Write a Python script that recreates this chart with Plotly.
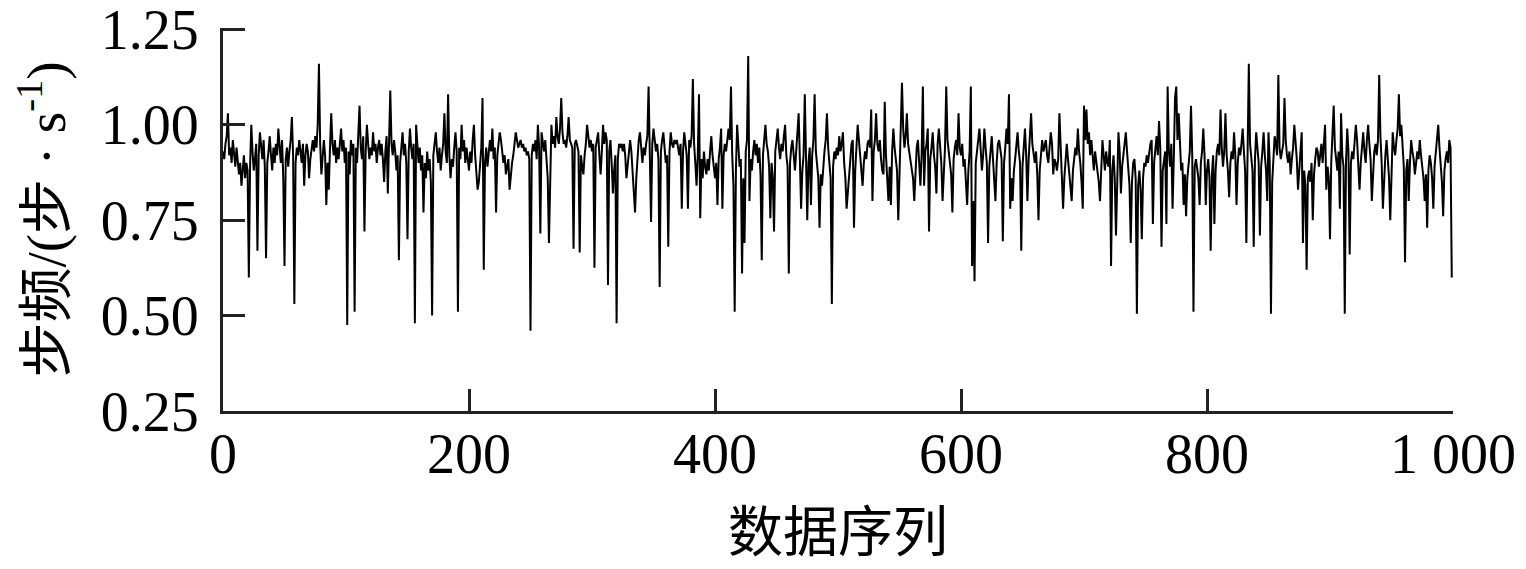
import plotly.graph_objects as go

# Step-frequency series (steps/s), 200 values per segment
seg0 = [0.93,0.91,0.95,0.97,1.03,0.92,0.94,0.90,0.96,0.93,0.89,0.94,0.91,0.87,0.90,0.84,0.88,0.92,0.86,0.90,
        0.88,0.60,0.89,1.00,0.93,0.88,0.91,0.95,0.67,0.92,0.98,0.94,0.91,0.96,0.89,0.65,0.90,0.93,0.97,0.92,
        0.88,0.94,0.90,0.95,0.92,0.99,0.93,0.90,0.96,0.86,0.63,0.91,0.94,0.89,0.93,0.96,1.02,0.92,0.53,0.90,
        0.94,0.92,0.96,0.93,0.90,0.95,0.84,0.92,0.95,0.93,0.86,0.91,0.94,0.96,0.93,0.97,0.94,1.00,1.16,0.95,
        0.87,0.93,0.96,0.92,0.79,0.90,0.83,0.94,1.03,0.95,0.92,0.96,0.90,0.94,0.91,0.95,0.99,0.93,0.96,0.90,
        0.94,0.475,0.93,0.87,0.96,0.92,0.95,0.51,0.94,0.90,0.96,1.05,0.94,0.91,0.97,0.72,0.93,1.00,0.95,0.91,
        0.94,0.92,0.98,0.93,0.95,0.90,0.94,0.96,0.92,0.95,0.91,0.85,0.93,0.97,0.82,0.94,1.09,0.95,0.92,0.96,
        0.93,0.88,0.92,0.645,0.90,0.94,0.98,0.92,0.95,0.90,0.70,0.93,0.99,0.94,0.91,0.95,0.48,1.00,0.93,0.90,
        0.94,0.88,0.92,0.77,0.90,0.86,0.93,0.88,0.91,0.85,0.50,0.92,0.95,0.98,0.93,0.90,0.94,0.88,0.92,0.95,
        1.03,0.93,0.90,1.08,0.92,0.86,0.91,0.89,0.94,0.98,0.93,0.51,0.94,0.91,1.00,0.93,0.96,0.90,0.94,0.91]
seg1 = [0.88,0.93,0.90,0.96,1.00,0.92,0.87,0.83,0.85,0.91,0.94,1.07,0.62,0.90,0.94,0.89,0.92,0.96,0.93,0.99,
        0.91,0.94,0.77,0.92,0.95,0.98,0.96,0.93,0.90,0.92,0.87,0.89,0.91,0.83,0.88,0.90,0.92,0.95,0.98,0.96,
        0.94,0.95,0.96,0.94,0.95,0.93,0.94,0.92,0.93,0.91,0.46,0.92,0.95,0.93,0.96,0.91,1.00,0.94,0.715,0.98,
        0.95,0.93,0.96,0.92,0.86,0.69,0.90,1.00,0.95,0.97,0.94,1.02,0.97,0.95,0.99,1.07,0.98,0.95,0.96,0.94,
        0.97,1.02,0.96,0.95,0.94,0.675,0.95,0.96,0.94,0.93,0.665,0.92,0.89,0.87,0.92,0.95,1.00,0.96,0.94,0.96,
        0.93,0.95,0.625,0.94,0.96,0.98,0.92,0.87,0.93,1.00,0.95,0.98,0.96,0.58,0.93,0.96,0.90,0.82,0.88,0.92,
        0.48,0.91,0.95,0.94,0.95,0.93,0.95,0.92,0.86,0.90,0.94,0.96,0.93,0.88,0.84,0.77,0.86,0.92,0.96,0.98,
        0.93,0.90,0.94,0.92,0.95,0.97,1.10,0.96,0.745,0.95,0.99,0.96,0.93,0.95,0.91,0.575,0.93,0.96,0.98,0.94,
        0.90,0.92,0.68,0.93,0.98,0.95,0.94,0.96,0.95,0.96,0.94,0.92,0.95,0.78,0.93,0.98,0.95,0.92,0.78,0.96,
        0.94,0.97,1.12,0.95,0.90,0.84,0.92,1.08,0.755,0.91,0.86,0.93,0.89,0.87,0.91,0.88,0.93,0.97,0.92,0.89]
seg2 = [0.86,0.90,0.79,0.91,0.94,0.99,0.78,0.92,0.95,0.93,0.97,0.99,0.96,1.10,0.92,0.84,0.51,0.88,1.00,0.94,
        0.89,0.91,0.61,0.86,0.69,0.93,0.96,1.18,0.80,0.91,0.88,0.93,0.96,0.92,0.95,0.90,0.94,0.87,0.645,0.92,
        0.96,1.00,0.95,0.93,0.89,0.755,0.90,0.86,0.72,0.93,0.96,0.99,0.94,0.91,0.95,0.93,0.97,1.00,0.92,0.89,
        0.61,0.90,0.94,0.96,0.92,0.88,0.93,0.97,1.03,0.91,0.78,0.88,0.92,1.08,0.86,0.75,0.90,0.94,0.79,0.92,
        0.96,1.08,0.93,0.89,0.86,0.73,0.87,0.84,0.90,0.93,0.96,1.03,0.94,0.90,0.86,0.53,0.89,0.93,0.91,0.94,
        0.92,0.97,0.93,0.95,0.98,0.90,0.86,0.78,0.83,0.88,0.92,0.95,0.96,0.73,0.88,0.93,1.00,0.96,0.91,0.88,
        0.84,0.90,0.93,0.91,0.95,0.96,0.94,1.04,0.80,0.93,0.96,1.03,0.95,0.93,0.96,0.91,0.88,0.87,1.06,0.92,
        0.85,0.80,0.89,0.79,0.93,0.99,0.94,0.91,0.88,0.75,0.90,0.96,1.11,0.99,0.94,0.97,1.03,0.95,0.93,0.91,
        0.89,0.86,0.80,0.90,0.94,0.96,0.91,0.84,0.92,1.10,0.84,0.93,0.95,0.99,0.72,0.91,0.94,0.98,0.92,0.89,
        0.82,0.95,0.99,0.93,0.90,0.80,0.89,0.94,1.10,0.96,0.93,0.90,0.87,0.77,0.91,0.94,0.96,0.92,1.03,0.94]
seg3 = [0.92,0.95,0.89,0.91,0.86,0.79,0.88,0.93,1.10,0.63,0.80,0.59,0.90,0.94,0.96,0.99,0.93,0.88,0.92,0.99,
        0.94,0.90,0.69,0.89,0.93,0.97,0.91,0.86,0.80,0.90,0.95,0.96,0.93,0.91,0.695,0.90,0.94,0.99,0.95,1.08,
        0.78,0.86,0.80,0.88,0.91,0.95,0.98,0.93,0.90,0.67,0.89,0.94,0.99,0.92,0.80,0.91,0.96,1.03,0.95,0.92,
        0.90,0.93,0.87,0.75,0.88,0.92,0.96,0.93,0.95,0.96,0.92,0.90,0.94,0.98,0.95,0.87,0.91,0.90,0.88,0.91,
        1.03,0.93,0.89,0.78,0.86,0.92,0.95,0.91,0.87,0.84,0.80,0.88,0.91,0.94,0.92,0.99,0.93,0.90,0.85,0.78,
        1.05,0.96,1.04,0.95,0.98,0.92,0.96,0.91,0.88,0.93,0.90,0.87,0.85,0.80,0.89,0.96,0.92,0.88,0.93,0.90,
        0.89,0.96,0.63,0.88,0.92,0.86,0.71,0.90,0.98,0.93,0.82,0.89,0.92,0.95,0.98,0.93,0.87,0.84,0.69,0.85,
        0.90,0.91,0.86,0.505,0.84,0.88,0.83,0.70,0.86,0.90,0.89,0.92,0.90,0.93,0.95,0.96,0.74,0.90,0.93,0.97,
        0.92,1.01,0.94,0.68,0.88,0.91,0.93,0.74,1.10,0.93,0.89,0.95,0.78,0.91,1.07,1.10,0.96,1.03,0.94,0.88,
        0.90,0.79,0.87,0.76,0.86,0.90,0.93,1.05,0.92,0.51,0.89,0.91,0.88,0.86,0.79,0.90,0.93,0.99,0.92,0.79]
seg4 = [0.88,0.91,0.86,0.67,0.87,0.92,0.74,0.88,0.93,0.95,0.92,1.04,0.94,0.89,0.93,1.03,0.92,0.88,0.81,0.90,
        0.93,0.91,0.98,0.92,0.79,0.90,0.94,0.92,0.95,0.99,0.93,0.88,0.69,0.94,1.16,0.95,0.90,0.88,0.68,0.91,
        0.98,0.94,0.90,0.71,0.89,0.93,0.98,0.92,0.88,0.80,0.98,0.90,0.505,0.85,0.93,0.97,0.95,0.92,1.13,0.94,
        0.91,0.93,0.95,1.07,0.96,0.92,0.90,0.93,0.87,0.91,0.94,1.00,0.96,0.91,0.83,0.89,0.94,0.98,0.69,0.88,
        0.84,0.62,0.86,0.88,0.85,0.90,0.75,0.87,0.91,0.94,0.93,0.89,0.92,0.95,0.90,0.96,1.00,0.83,0.89,0.86,
        0.70,0.90,0.96,1.05,0.94,0.91,0.88,0.93,0.78,1.03,0.92,0.89,0.505,0.90,0.99,0.93,0.66,0.90,0.93,0.91,
        0.95,1.00,0.96,0.91,0.83,0.90,0.94,0.98,0.93,0.90,0.96,1.00,0.95,0.91,0.80,0.89,0.93,0.95,0.92,0.96,
        1.13,0.97,0.90,0.78,0.88,0.92,0.96,0.91,0.86,0.75,0.90,0.98,0.94,0.92,0.96,0.99,1.08,0.97,1.00,0.93,
        0.89,0.64,0.88,0.91,0.80,0.90,0.96,0.93,0.91,0.87,0.90,0.93,0.91,0.96,0.92,0.89,0.86,0.80,0.87,0.73,
        0.88,0.92,0.90,0.86,0.78,0.89,0.93,0.97,1.00,0.94,0.90,0.85,0.76,0.88,0.91,0.93,0.90,0.96,0.94,0.60]

step_freq = seg0 + seg1 + seg2 + seg3 + seg4
index = list(range(len(step_freq)))

x_tick_vals = [0, 200, 400, 600, 800, 1000]
x_tick_text = ["0", "200", "400", "600", "800", "1 000"]
y_tick_vals = [0.25, 0.50, 0.75, 1.00, 1.25]
y_tick_text = ["0.25", "0.50", "0.75", "1.00", "1.25"]

x_title = "数据序列"
y_title = "步频/(步 · s<sup>-1</sup>)"

FONT = "Liberation Serif, Times New Roman, Noto Sans CJK SC, serif"
AX = "#222222"

fig = go.Figure()
fig.add_trace(go.Scatter(x=index, y=step_freq, mode="lines",
                         line=dict(color="#000000", width=2), hoverinfo="skip"))

fig.update_layout(
    width=1526, height=569,
    margin=dict(l=215, r=81, t=20, b=166),
    paper_bgcolor="white", plot_bgcolor="white",
    showlegend=False,
    font=dict(family=FONT, size=56, color="#000000"),
)
fig.update_xaxes(
    range=[0, 1000], tickmode="array", tickvals=x_tick_vals, ticktext=x_tick_text,
    ticks="inside", ticklen=22, tickwidth=3, tickcolor=AX,
    showline=True, linewidth=3, linecolor=AX, showgrid=False, zeroline=False,
    automargin=False, ticklabeloverflow="allow",
    tickfont=dict(family=FONT, size=56), ticklabelstandoff=-8,
    title=dict(text=x_title, font=dict(family=FONT, size=55), standoff=29),
)
fig.update_yaxes(
    range=[0.2499, 1.2535], tickmode="array", tickvals=y_tick_vals, ticktext=y_tick_text,
    ticks="inside", ticklen=22, tickwidth=3, tickcolor=AX,
    showline=True, linewidth=3, linecolor=AX, showgrid=False, zeroline=False,
    automargin=False, ticklabeloverflow="allow",
    tickfont=dict(family=FONT, size=56), ticklabelstandoff=10,
    title=dict(text=y_title, font=dict(family=FONT, size=55), standoff=26),
)

fig.write_html("out.html")
